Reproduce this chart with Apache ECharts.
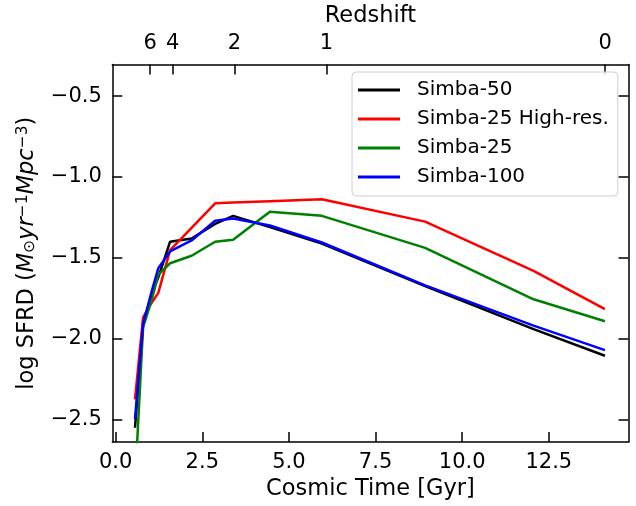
<!DOCTYPE html>
<html>
<head>
<meta charset="utf-8">
<script src="https://cdn.jsdelivr.net/npm/echarts@6/dist/echarts.min.js"></script>
<style>html,body{margin:0;padding:0;background:#fff;}#c{width:636px;height:506px;}</style>
</head>
<body>
<div id="c"></div>
<script>
// Cosmic time (Gyr) of each snapshot
const time = [0.557, 0.79, 1.04, 1.23, 1.57, 2.19, 2.87, 3.39, 4.45, 5.95, 8.93, 12.06, 14.12];
const simba50 = [-2.55, -1.92, -1.72, -1.62, -1.40, -1.38, -1.29, -1.24, -1.31, -1.412, -1.675, -1.94, -2.105];
const simba25HR = [-2.374, -1.868, -1.777, -1.716, -1.452, -1.314, -1.163, -1.158, -1.150, -1.138, -1.276, -1.58, -1.817];
const simba25 = [-2.9, -1.93, -1.76, -1.604, -1.533, -1.487, -1.40, -1.388, -1.215, -1.24, -1.438, -1.756, -1.892];
const simba100 = [-2.496, -1.908, -1.706, -1.564, -1.46, -1.392, -1.27, -1.256, -1.30, -1.405, -1.67, -1.919, -2.07];

const xTicks = [0, 2.5, 5, 7.5, 10, 12.5];
const yTicks = [-2.5, -2.0, -1.5, -1.0, -0.5];
const zTickTimes = [0.996, 1.643, 3.43, 6.085, 14.125];
const zTickLabels = ['6', '4', '2', '1', '0'];

const seriesNames = ['Simba-50', 'Simba-25 High-res.', 'Simba-25', 'Simba-100'];
const seriesData = [simba50, simba25HR, simba25, simba100];
const seriesColors = ['#000000', '#ff0000', '#008000', '#0000ff'];

const FONT = 'DejaVu Sans';
const FS_TICK = 21;
const FS_NAME = 22.5;
const FS_LEG = 20;
const minus = v => String(v).replace('-', '\u2212');

const chart = echarts.init(document.getElementById('c'), null, {renderer: 'canvas'});
const axisLine = {show: true, onZero: false, lineStyle: {color: '#000', width: 1.5}};
const tick = vals => ({inside: true, length: 10, lineStyle: {color: '#000', width: 1.5}, customValues: vals});
chart.setOption({
  animation: false,
  backgroundColor: '#fff',
  grid: {left: 112.3, right: 7.5, top: 62.7, bottom: 59.3, containLabel: false},
  legend: {
    orient: 'vertical', left: 352, top: 72,
    padding: [7, 9, 8, 6],
    itemWidth: 42, itemHeight: 3, itemGap: 7,
    icon: 'rect',
    borderColor: '#d0d0d0', borderWidth: 1, borderRadius: 4,
    backgroundColor: 'rgba(255,255,255,0.8)',
    textStyle: {fontFamily: FONT, fontSize: FS_LEG, color: '#000', lineHeight: 22, padding: [0, 0, 0, 12]},
    data: seriesNames
  },
  xAxis: [
    {
      type: 'value', position: 'bottom', min: -0.098, max: 14.80,
      axisLine: axisLine, splitLine: {show: false},
      name: 'Cosmic Time [Gyr]', nameLocation: 'middle', nameGap: 36,
      nameTextStyle: {fontFamily: FONT, fontSize: FS_NAME, color: '#000'},
      axisTick: tick(xTicks),
      axisLabel: {fontFamily: FONT, fontSize: FS_TICK, color: '#000', margin: 10, customValues: xTicks,
        formatter: v => minus(v.toFixed(1))}
    },
    {
      type: 'value', position: 'top', min: -0.098, max: 14.80,
      axisLine: axisLine, splitLine: {show: false},
      name: 'Redshift', nameLocation: 'middle', nameGap: 30,
      nameTextStyle: {fontFamily: FONT, fontSize: FS_NAME, color: '#000'},
      axisTick: tick(zTickTimes),
      axisLabel: {fontFamily: FONT, fontSize: FS_TICK, color: '#000', margin: 10.5, customValues: zTickTimes,
        formatter: v => { const i = zTickTimes.indexOf(v); return i >= 0 ? zTickLabels[i] : ''; }}
    }
  ],
  yAxis: [
    {
      type: 'value', position: 'left', min: -2.638, max: -0.304,
      axisLine: axisLine, splitLine: {show: false},
      name: '{n|log SFRD (}{i|M}{sub|\u2299}{i|yr}{sup|\u22121}{i|Mpc}{sup|\u22123}{n|)}',
      nameLocation: 'middle', nameGap: 74, nameRotate: 90,
      nameTextStyle: {fontFamily: FONT, fontSize: FS_NAME, color: '#000',
        rich: {
          n: {fontFamily: FONT, fontSize: FS_NAME, color: '#000'},
          i: {fontFamily: FONT, fontSize: FS_NAME, fontStyle: 'italic', color: '#000'},
          sub: {fontFamily: FONT, fontSize: 15.5, color: '#000', verticalAlign: 'bottom', padding: [7, 0, 0, 0]},
          sup: {fontFamily: FONT, fontSize: 15.5, color: '#000', verticalAlign: 'top', padding: [0, 0, 7, 0]}
        }},
      axisTick: tick(yTicks),
      axisLabel: {fontFamily: FONT, fontSize: FS_TICK, color: '#000', margin: 10.5, customValues: yTicks,
        formatter: v => minus(v.toFixed(1))}
    },
    {
      type: 'value', position: 'right', min: -2.638, max: -0.304,
      axisLine: axisLine, splitLine: {show: false},
      axisTick: tick(yTicks),
      axisLabel: {show: false, customValues: yTicks}
    }
  ],
  series: seriesNames.map((name, k) => ({
    name: name, type: 'line', xAxisIndex: 0, yAxisIndex: 0,
    data: time.map((t, i) => [t, seriesData[k][i]]),
    showSymbol: false, symbol: 'none', clip: true,
    lineStyle: {color: seriesColors[k], width: 2.5},
    itemStyle: {color: seriesColors[k]},
    z: 2 + k
  }))
});
</script>
</body>
</html>
